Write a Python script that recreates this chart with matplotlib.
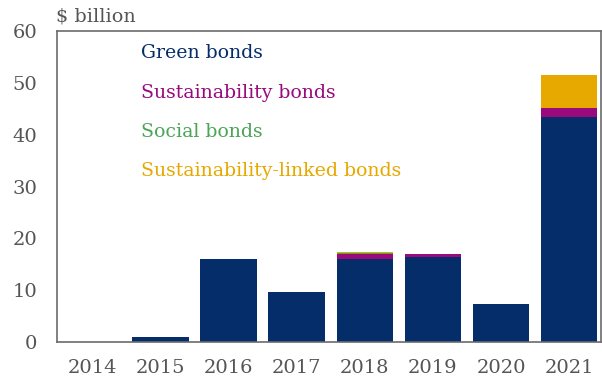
import matplotlib
matplotlib.use("Agg")
import matplotlib.pyplot as plt
import numpy as np

years = ["2014", "2015", "2016", "2017", "2018", "2019", "2020", "2021"]
green = [0.0, 1.0, 16.0, 9.7, 16.0, 16.4, 7.3, 43.5]
sustainability = [0.0, 0.0, 0.0, 0.0, 0.9, 0.6, 0.0, 1.6]
social = [0.0, 0.0, 0.0, 0.0, 0.3, 0.0, 0.0, 0.0]
sustainability_linked = [0.0, 0.0, 0.0, 0.0, 0.25, 0.0, 0.0, 6.5]

series = [
    ("Green bonds", green, "#052d6a"),
    ("Sustainability bonds", sustainability, "#9b0a7d"),
    ("Social bonds", social, "#4aa557"),
    ("Sustainability-linked bonds", sustainability_linked, "#e7a800"),
]

plt.rcParams["font.family"] = ["DejaVu Serif"]
text_grey = "#555555"

fig = plt.figure(figsize=(6.02, 3.81), dpi=100)
ax = fig.add_axes([0.0947, 0.1024, 0.904, 0.816])

x = np.arange(len(years))
bottom = np.zeros(len(years))
for name, vals, color in series:
    vals = np.array(vals)
    ax.bar(x, vals, width=0.83, bottom=bottom, color=color, linewidth=0)
    bottom += vals

ax.set_xlim(-0.52, 7.47)
ax.set_ylim(0, 60)
ax.set_yticks(range(0, 61, 10))
ax.set_xticks(x)
ax.set_xticklabels(years)
ax.tick_params(length=0, labelsize=14, colors=text_grey)
ax.tick_params(axis="y", pad=14)
ax.tick_params(axis="x", pad=12)
for s in ax.spines.values():
    s.set_color("#6b6b6b")
    s.set_linewidth(1.2)

# legend drawn as coloured text
for i, (name, vals, color) in enumerate(series):
    ax.text(0.155, 0.928 - i * 0.126, name, transform=ax.transAxes,
            color=color, fontsize=13.6, va="center", ha="left")

fig.text(0.093, 0.958, "$ billion", color=text_grey, fontsize=13.8,
         ha="left", va="center")

fig.savefig("out.png", dpi=100)
